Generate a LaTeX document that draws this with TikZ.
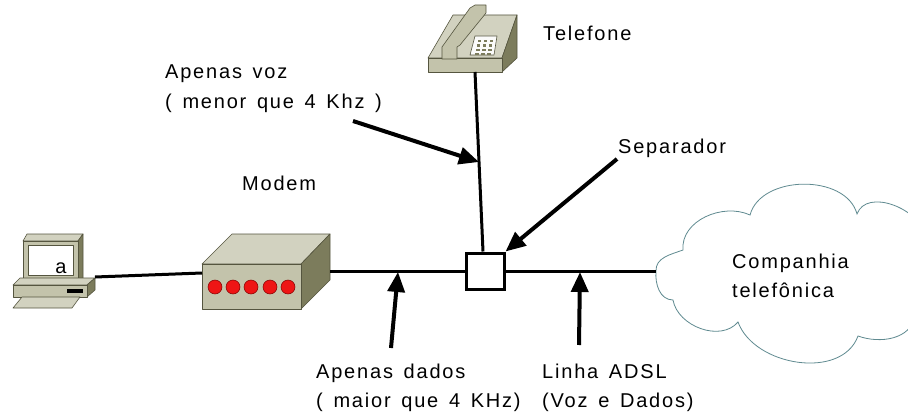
\documentclass[tikz,border=0pt]{standalone}
\usepackage{fontspec}
\usetikzlibrary{arrows.meta}
\newfontfamily\lblfont[LetterSpace=9,WordSpace=1.45]{Liberation Sans}
\definecolor{devfront}{HTML}{C3C3AB}
\definecolor{devtop}{HTML}{D2D2C0}
\definecolor{devside}{HTML}{7C7C5C}
\definecolor{devedge}{HTML}{55553F}
\definecolor{cloudedge}{HTML}{5F8A90}
\definecolor{ledred}{HTML}{EE1515}
\begin{document}
\begin{tikzpicture}[x=1pt,y=1pt,
  lbl/.style={font=\lblfont\fontsize{20}{29}\selectfont, inner sep=0pt, anchor=base west, align=left},
  wire/.style={line width=3pt},
  pointer/.style={line width=4pt, -{Triangle[length=20pt,width=17pt]}},
  face/.style={draw=devedge, line width=0.6pt, line join=round},
]
\useasboundingbox (0,0) rectangle (908,416);

% ---- computer ----
\fill[face, fill=devtop]   (23,175) -- (27,182) -- (83,182) -- (78,175) -- cycle;
\fill[face, fill=devside]  (78,175) -- (83,182) -- (83,138) -- (78,133) -- cycle;
\fill[face, fill=devfront] (23,175) rectangle (78,133);
\fill[face, fill=white]    (28,171) rectangle (73,141);
\node[font=\lblfont\fontsize{20}{22}\selectfont, inner sep=0pt] (scr) at (61,148) {a};
\fill[face, fill=devtop]   (13,131) -- (20,138) -- (95,138) -- (87,131) -- cycle;
\fill[face, fill=devside]  (87,131) -- (95,138) -- (95,126) -- (87,119) -- cycle;
\fill[face, fill=devfront] (13,131) rectangle (87,119);
\fill[black] (67,127) rectangle (83,123);
\fill[face, fill=devtop]   (22,119) -- (80,119) -- (72,108) -- (13,108) -- cycle;
\coordinate (pc) at (95,139);

% ---- modem ----
\fill[face, fill=devtop]   (202,152) -- (232,182) -- (330,182) -- (301,152) -- cycle;
\fill[face, fill=devside]  (301,152) -- (330,182) -- (330,136) -- (301,107) -- cycle;
\fill[face, fill=devfront] (202,152) rectangle (301,107);
\foreach \lx in {215,233,251,270,288}
  \fill[draw=red!50!black, line width=0.5pt, fill=ledred] (\lx,129) circle (7);
\coordinate (modemL) at (202,143);
\coordinate (modemR) at (330,145);

% ---- telephone ----
\fill[face, fill=devtop]   (428,358) -- (502,358) -- (517,401) -- (453,401) -- cycle;
\fill[face, fill=devside]  (502,358) -- (517,401) -- (517,358) -- (502,344) -- cycle;
\fill[face, fill=devfront] (428,358) rectangle (502,344);
\fill[face, fill=devfront] (442,357) -- (442,369) -- (470,408) -- (475,411) -- (486,411)
  -- (486,403) -- (460,371) -- (457,369) -- (457,357) -- cycle;
\fill[face, fill=white!92!devtop] (475,380) -- (497,380) -- (494,361) -- (470,361) -- cycle;
\foreach \r in {0,1,2,3}
  \foreach \c in {0,1,2}
    \fill[devside] ({477.5+6*\c-0.8*\r},{376-4.4*\r}) rectangle ++(3.6,-2.2);
\coordinate (phone) at (475,344);

% ---- separator ----
\node[draw, line width=3pt, minimum width=38pt, minimum height=36pt, inner sep=0pt, fill=white]
  (sep) at (485,145) {};

% ---- cloud ----
\begin{scope}
\clip (0,0) rectangle (908,416);
\draw[cloudedge, line width=0.8pt, fill=white]
  (656,145) to[out=92,in=200] (683,166)
  to[out=95,in=155] (750,201)
  to[out=75,in=105] (857,202)
  to[out=70,in=100] (925,180)
  to[out=-80,in=60] (915,100)
  to[out=-100,in=-20] (858,80)
  to[out=-110,in=-70] (738,94)
  to[out=-130,in=-80] (673,116)
  to[out=180,in=-95] cycle;
\end{scope}
\coordinate (cloud) at (656,145);

% ---- wires ----
\draw[wire] (pc) -- (modemL);
\draw[wire] (modemR) -- (sep.west);
\draw[wire] (sep.east) -- (cloud);
\draw[wire] (phone) -- (sep.north -| 483,0);

% ---- labels (multi-line nodes sit on the baseline of their last line) ----
\node[lbl] (tel)  at (543,375) {Telefone};
\node[lbl] (voz)  at (165,308) {Apenas voz\\( menor que 4 Khz )};
\node[lbl] (mod)  at (242,226) {Modem};
\node[lbl] (sepl) at (618,263) {Separador};
\node[lbl] (comp) at (732,119) {Companhia\\telefônica};
\node[lbl] (dad)  at (316,9)   {Apenas dados\\( maior que 4 KHz)};
\node[lbl] (adsl) at (542,9)   {Linha ADSL\\(Voz e Dados)};

% ---- pointer arrows ----
\coordinate (vozTail) at (353,295);
\coordinate (vozTip)  at (479,254);
\coordinate (sepTail) at (617,257);
\coordinate (datTail) at (391,68);
\coordinate (datTip)  at (398,144);
\coordinate (adTail)  at (579,71);
\coordinate (adTip)   at (580,144);
\draw[pointer] (vozTail) -- (vozTip);
\draw[pointer] (sepTail) -- (sep.north east);
\draw[pointer] (datTail) -- (datTip);
\draw[pointer] (adTail) -- (adTip);
\end{tikzpicture}
\end{document}
